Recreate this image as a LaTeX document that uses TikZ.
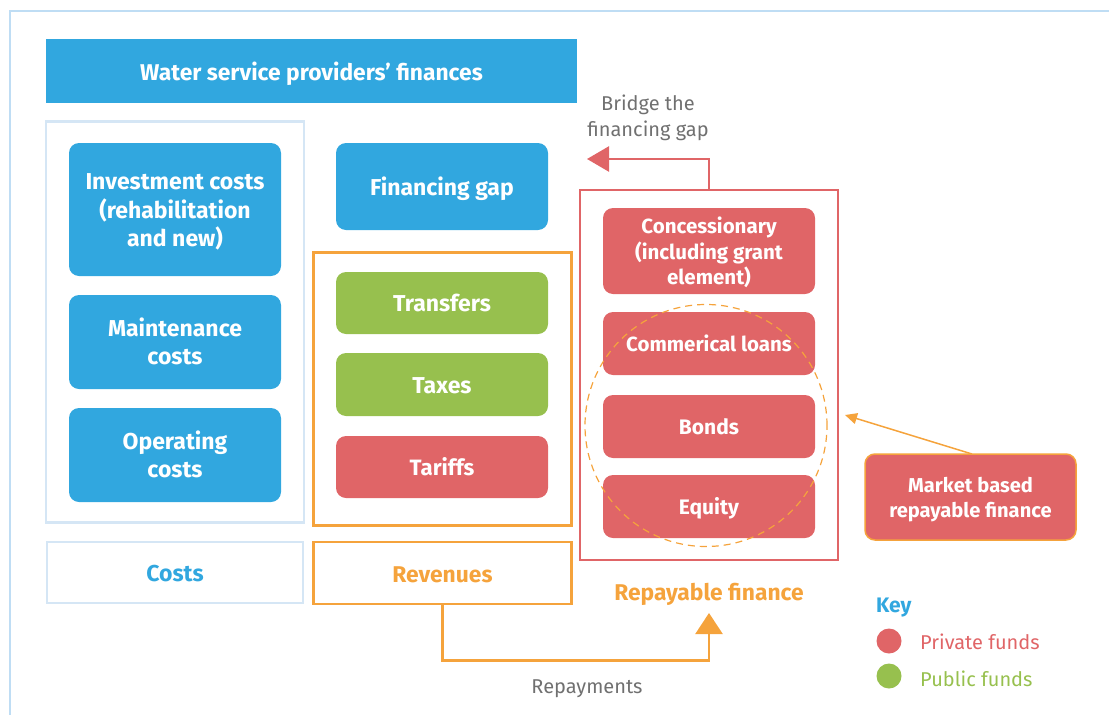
\documentclass[tikz,border=0pt]{standalone}
\usepackage{fontspec}
\setmainfont{Fira Sans}
\usetikzlibrary{arrows.meta}
\definecolor{wblue}{HTML}{31A7DF}
\definecolor{wgreen}{HTML}{97C04E}
\definecolor{wred}{HTML}{E06567}
\definecolor{worange}{HTML}{F5A33C}
\definecolor{wlight}{HTML}{D5E6F5}
\definecolor{wouter}{HTML}{BFDDF4}
\definecolor{wgray}{HTML}{707070}
\newcommand\bt[2][3pt]{\raisebox{-#1}[\height][\depth]{\begin{tabular}{@{}c@{}}#2\end{tabular}}}
\tikzset{
  box/.style={rounded corners=10pt, text=white, inner sep=0pt,
    font=\bfseries\fontsize{23}{28.5}\selectfont},
  smallbox/.style={font=\bfseries\fontsize{20.5}{25.5}\selectfont},
  bluebox/.style={box, fill=wblue},
  greenbox/.style={box, fill=wgreen},
  redbox/.style={box, fill=wred},
  frame/.style={draw, line width=2.5pt, inner sep=0pt, fill=none},
  plain/.style={font=\fontsize{20}{26}\selectfont, align=center, inner sep=0pt},
}
\begin{document}
\begin{tikzpicture}[x=1pt, y=-1pt]
\useasboundingbox (0,0) rectangle (1109,715);
% outer frame (top and left)
\draw[wouter, line width=2pt] (1109,10.5) -- (10,10.5) -- (10,715);
% title
\node[fill=wblue, text=white, inner sep=0pt, minimum width=531pt, minimum height=64pt,
  font=\bfseries\fontsize{22.8}{28}\selectfont] (title) at (311.5,71) {\bt[4pt]{Water service providers’ finances}};
% frames
\node[frame, draw=wlight, minimum width=258pt, minimum height=401pt] (costframe) at (175,322) {};
\node[frame, draw=worange, minimum width=258pt, minimum height=273pt] (revframe) at (442.5,389) {};
\node[frame, draw=wred, minimum width=258pt, minimum height=370pt] (repframe) at (709,375) {};
% cost boxes
\node[bluebox, minimum width=212pt, minimum height=133pt] (inv) at (175,209.5) {\bt{Investment costs\\(rehabilitation\\and new)}};
\node[bluebox, minimum width=212pt, minimum height=94pt] (maint) at (175,342) {\bt{Maintenance\\costs}};
\node[bluebox, minimum width=212pt, minimum height=94pt] (oper) at (175,455) {\bt{Operating\\costs}};
% middle
\node[bluebox, minimum width=212pt, minimum height=87pt] (gap) at (442,186.5) {\bt{Financing gap}};
\node[greenbox, minimum width=212pt, minimum height=62pt] (transfers) at (442,303) {\bt{Transfers}};
\node[greenbox, minimum width=212pt, minimum height=63pt] (taxes) at (442,384.5) {\bt{Taxes}};
\node[redbox, minimum width=212pt, minimum height=62pt, font=\bfseries\fontsize{22.2}{28}\selectfont] (tariffs) at (442,467) {\bt{Tariffs}};
% repayable
\node[redbox, smallbox, minimum width=212pt, minimum height=86pt] (conc) at (709,251) {\bt{Concessionary\\(including grant\\element)}};
\node[redbox, smallbox, minimum width=212pt, minimum height=63pt] (loans) at (709,343.5) {\bt{Commerical loans}};
\node[redbox, minimum width=212pt, minimum height=63pt, font=\bfseries\fontsize{21}{26}\selectfont] (bonds) at (709,426.5) {\bt{Bonds}};
\node[redbox, minimum width=212pt, minimum height=63pt, font=\bfseries\fontsize{21}{26}\selectfont] (equity) at (709,506.5) {\bt{Equity}};
\node[draw=worange, line width=1.2pt, dash pattern=on 7pt off 5pt, circle, minimum size=242pt, inner sep=0pt] (circ) at (706,425.5) {};
% label boxes
\node[frame, draw=wlight, minimum width=256pt, minimum height=61pt, text=wblue,
  font=\bfseries\fontsize{23}{28}\selectfont] (costs) at (175,572.5) {\bt[3.5pt]{Costs}};
\node[frame, draw=worange, minimum width=258pt, minimum height=62pt, text=worange,
  font=\bfseries\fontsize{22.8}{28}\selectfont] (revenues) at (442.5,573) {\bt[3.5pt]{Revenues}};
\node[text=worange, font=\bfseries\fontsize{22.8}{28}\selectfont, inner sep=0pt] (repfin) at (709,594) {Repayable finance};
% market
\node[redbox, draw=worange, line width=1.5pt, minimum width=211pt, minimum height=86pt,
  font=\bfseries\fontsize{20.1}{25.5}\selectfont] (market) at (970.5,497) {\bt{Market based\\repayable finance}};
% bridge
\node[plain, text=wgray] (bridge) at (648,117.5) {Bridge the\\financing gap};
\coordinate (bridgetip) at (587,159);
\draw[wred, line width=2.5pt, -{Triangle[length=22pt, width=25pt]}] (repframe.north) |- (bridgetip);
% repayments
\coordinate (reptip) at (709,613);
\draw[worange, line width=2.5pt, -{Triangle[length=21pt, width=27pt]}]
  (revenues.south) -- ++(0,55) -| (reptip);
\node[plain, text=wgray] (repay) at (587,688.5) {Repayments};
% market arrow
\coordinate (markettip) at (845,415);
\draw[worange, line width=1.5pt, -{Triangle[length=12pt, width=11pt]}] (972,454) -- (markettip);
% key
\node[text=wblue, font=\bfseries\fontsize{21}{26}\selectfont, anchor=west, inner sep=0pt] (key) at (876,607.5) {Key};
\node[circle, fill=wred, minimum size=25pt, inner sep=0pt] (kred) at (889,641) {};
\node[circle, fill=wgreen, minimum size=25pt, inner sep=0pt] (kgreen) at (889,676) {};
\node[plain, text=wred, anchor=west] (kredt) at (920,642) {Private funds};
\node[plain, text=wgreen, anchor=west] (kgreent) at (920,679) {Public funds};
\end{tikzpicture}
\end{document}
